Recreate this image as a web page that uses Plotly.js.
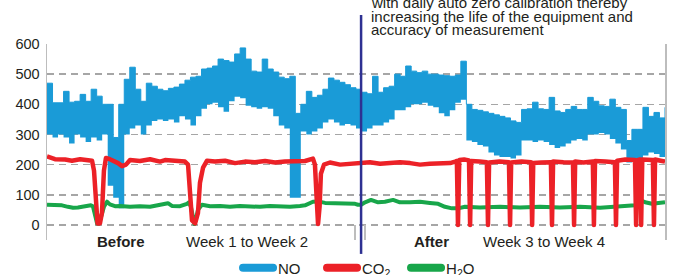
<!DOCTYPE html>
<html><head><meta charset="utf-8">
<script src="https://cdn.plot.ly/plotly-3.0.1.min.js"></script>
<style>html,body{margin:0;padding:0;background:#fff;}#chart{width:678px;height:275px;}</style>
</head><body><div id="chart"></div>
<script>
// ---- data (x in days from start of test) ----
const periodLabels = ['<b>Before</b>', 'Week 1 to Week 2', '<b>After</b>', 'Week 3 to Week 4'];
const periodLabelDays = [3.35, 9.06, 17.42, 22.52];
const periodBoundaryDays = [13.96, 14.41];
const switchDay = 14.23;
const yTicks = [0, 100, 200, 300, 400, 500, 600];
const noteLines = ['with daily auto zero calibration thereby',
                   'increasing the life of the equipment and',
                   'accuracy of measurement'];

const noSampleStepDays = 0.25;
const noHigh = [470,405,405,443,407,410,433,410,450,427,
                400,400,290,400,483,523,450,410,470,460,
                450,445,453,457,467,480,490,493,517,520,
                527,550,545,540,567,587,550,510,507,550,
                517,507,490,485,493,370,400,443,423,430,
                450,487,480,473,465,455,450,440,435,493,
                440,455,460,500,493,527,510,505,510,500,
                500,497,495,493,497,543,400,383,380,375,
                370,365,360,355,345,340,383,385,407,385,
                383,423,378,373,383,393,383,383,423,410,
                395,393,417,390,383,280,317,317,390,360,
                373,355,390];
const noLow = [300,290,300,290,270,300,290,275,290,280,
               300,130,90,55,300,320,330,300,330,345,
               350,345,350,340,360,350,330,360,385,400,
               405,390,375,410,425,420,395,390,385,390,
               385,360,330,320,90,90,310,300,310,320,
               340,350,340,330,335,330,320,310,320,330,
               330,340,350,380,380,390,400,400,405,395,
               390,370,360,380,405,415,280,275,265,260,
               240,230,225,225,220,230,280,280,275,280,
               275,265,255,260,270,280,285,280,300,300,
               305,300,285,270,250,207,210,220,230,240,
               235,225,230];

const co2Days = [0,0.36,0.82,1.13,1.50,1.86,2.04,2.13,2.22,2.29,2.40,2.49,2.58,2.67,2.85,3.08,3.22,3.40,3.58,3.76,
  4.21,4.67,5.12,5.35,5.80,6.25,6.39,6.48,6.57,6.71,6.84,6.93,7.07,7.25,7.61,8.07,8.52,8.97,9.42,9.88,
  10.33,10.78,11.24,11.69,12.05,12.14,12.21,12.28,12.35,12.41,12.55,12.82,13.28,13.73,14.18,14.63,15.09,15.54,15.99,16.45,
  16.90,17.35,17.81,18.26,18.49,18.57,18.62,18.68,18.90,19.12,19.17,19.22,19.60,19.93,19.98,20.03,20.50,20.93,20.98,21.03,
  21.50,21.93,21.98,22.03,22.40,22.83,22.88,22.93,23.40,23.83,23.88,23.93,24.30,24.73,24.78,24.83,25.30,25.73,25.78,25.83,
  26.20,26.64,26.69,26.74,26.87,26.92,26.97,27.20,27.45,27.50,27.55,27.80,28.00];
const co2Values = [227,218,217,213,218,215,213,180,40,5,5,40,180,222,218,212,205,195,200,215,
  212,218,210,215,212,210,200,120,15,5,40,140,190,213,210,213,205,210,208,212,
  207,210,210,212,220,200,100,3,60,170,200,207,200,203,205,208,203,205,208,205,
  200,203,205,205,210,212,0,215,217,214,0,212,210,208,0,207,210,208,0,207,
  210,208,0,205,207,208,0,210,208,207,0,210,207,210,0,212,210,208,0,213,
  217,215,0,215,217,0,217,217,215,0,217,213,210];

const h2oDays = [0,0.36,0.68,0.95,1.18,1.40,1.72,1.99,2.08,2.17,2.27,2.36,2.45,2.58,2.72,2.85,3.08,3.31,3.76,4.21,
  4.67,5.12,5.35,5.48,5.66,6.03,6.34,6.43,6.52,6.62,6.68,6.75,6.84,7.02,7.39,7.84,8.29,8.74,9.20,9.65,
  10.10,10.56,11.01,11.46,11.69,12.05,12.28,12.60,13.05,13.50,13.96,14.09,14.23,14.41,14.68,15.00,15.31,15.68,15.99,16.45,
  16.90,17.35,17.72,18.03,18.35,18.62,18.94,19.62,20.53,21.43,22.34,23.24,24.15,25.06,25.96,26.64,26.87,27.10,27.41,27.75,28.00];
const h2oValues = [67,65,65,60,57,58,63,65,62,35,5,5,30,60,77,68,62,63,60,62,
  60,65,70,72,63,62,70,75,60,15,3,20,50,67,62,63,60,63,62,60,
  63,62,60,63,65,77,78,73,73,72,70,67,67,75,83,75,77,83,75,75,
  77,73,70,60,55,55,60,58,60,58,60,58,60,57,60,65,83,75,70,73,75];

// ---- styles ----
const C_NO = '#1A9BD7', C_CO2 = '#EC2127', C_H2O = '#18A64A', C_NAVY = '#2E3192';
const TXT = '#231F20';
const FONT = 'Liberation Sans, Arial, sans-serif';

const noDays = noHigh.map((_, i) => i * noSampleStepDays);

const traces = [
  {x: noDays, y: noLow, mode: 'lines', line: {width: 0, shape: 'hv', color: C_NO}, showlegend: false, hoverinfo: 'skip'},
  {x: noDays, y: noHigh, mode: 'lines', fill: 'tonexty', fillcolor: C_NO, line: {width: 1, shape: 'hv', color: C_NO}, showlegend: false},
  {x: h2oDays, y: h2oValues, mode: 'lines', line: {color: C_H2O, width: 4}, showlegend: false},
  {x: co2Days, y: co2Values, mode: 'lines', line: {color: C_CO2, width: 4.5}, showlegend: false},
  {x: [null], y: [null], mode: 'lines', name: 'NO', line: {color: C_NO, width: 8}},
  {x: [null], y: [null], mode: 'lines', name: 'CO<sub>2</sub>', line: {color: C_CO2, width: 8}},
  {x: [null], y: [null], mode: 'lines', name: 'H<sub>2</sub>O', line: {color: C_H2O, width: 8}}
];

const annotations = periodLabels.map((t, i) => ({
  text: t, x: periodLabelDays[i], xref: 'x', y: -0.008, yref: 'paper',
  xanchor: 'center', yanchor: 'middle', showarrow: false,
  font: {family: FONT, size: 15, color: TXT}
}));
const noteY = [1.212, 1.142, 1.0724];
noteLines.forEach((t, i) => annotations.push({
  text: t, x: 0.521, xref: 'paper', y: noteY[i], yref: 'paper',
  xanchor: 'left', yanchor: 'middle', showarrow: false,
  font: {family: FONT, size: 15, color: TXT}
}));

const layout = {
  width: 678, height: 275,
  margin: {l: 47, r: 13, t: 44, b: 35, autoexpand: false},
  paper_bgcolor: '#fff', plot_bgcolor: '#fff',
  font: {family: FONT, size: 15, color: TXT},
  showlegend: true,
  legend: {orientation: 'h', traceorder: 'normal', x: 0.513, xanchor: 'center', y: -0.143, yanchor: 'middle',
           font: {family: FONT, size: 15, color: TXT}, entrywidth: 39, bgcolor: 'rgba(0,0,0,0)'},
  xaxis: {range: [0, 28], showgrid: false, zeroline: false, showline: false,
          tickvals: periodBoundaryDays, ticks: 'inside', ticklen: 15, tickwidth: 1.5,
          tickcolor: '#BDBDBD', showticklabels: false, fixedrange: true},
  yaxis: {range: [-50, 600], tickvals: yTicks, showgrid: true, gridcolor: '#A6A6A6',
          gridwidth: 1.5, griddash: '7px,5px', zeroline: false, showline: true,
          linecolor: '#BDBDBD', linewidth: 1.5, mirror: true, ticks: '',
          ticklabelstandoff: 3, tickfont: {family: FONT, size: 14.5, color: TXT}, fixedrange: true},
  shapes: [{type: 'line', xref: 'x', yref: 'paper', x0: switchDay, x1: switchDay,
            y0: -0.071, y1: 1.148, line: {color: C_NAVY, width: 2.5}}],
  annotations: annotations
};

Plotly.newPlot('chart', traces, layout, {staticPlot: true}).then(() => {
  document.querySelectorAll('.scatterlayer .js-line').forEach(p => {
    p.style.strokeLinejoin = 'round';
  });
  document.querySelectorAll('.legend .js-line').forEach(p => {
    p.style.strokeLinecap = 'round';
  });
});
</script>
</body></html>
